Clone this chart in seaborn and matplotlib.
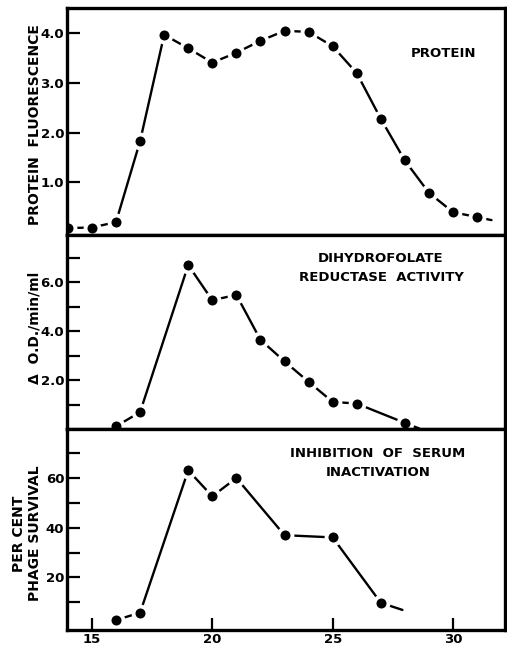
import numpy as np
import pandas as pd
import seaborn as sns
import matplotlib.pyplot as plt

sns.set_style("ticks", {"axes.edgecolor": "black", "text.color": "black",
                        "xtick.color": "black", "ytick.color": "black",
                        "axes.labelcolor": "black"})
plt.rcParams['font.family'] = ['DejaVu Sans']
plt.rcParams['font.weight'] = 'bold'

# fraction numbers and readings
protein_fraction = [14, 15, 16, 17, 18, 19, 20, 21, 22, 23, 24, 25, 26, 27, 28, 29, 30, 31]
protein_value = [0.08, 0.09, 0.2, 1.83, 3.97, 3.7, 3.41, 3.61, 3.85, 4.05, 4.03, 3.74,
                 3.2, 2.28, 1.44, 0.79, 0.4, 0.3]
protein_tail = (31.6, 0.24)

dhfr_fraction = [16, 17, 19, 20, 21, 22, 23, 24, 25, 26, 28]
dhfr_value = [0.11, 0.69, 6.71, 5.27, 5.49, 3.65, 2.77, 1.93, 1.11, 1.04, 0.25]
dhfr_tail = (28.6, 0.02)

serum_fraction = [16, 17, 19, 20, 21, 23, 25, 27]
serum_value = [2.7, 5.7, 63.2, 52.7, 60.1, 37.0, 36.1, 9.7]
serum_tail = (27.9, 6.8)

x_ticks = [15, 20, 25, 30]


def draw_panel(ax, xs, ys, tail):
    """
    Draws one hand-drawn style curve: line with gaps around the dots
    """
    df = pd.DataFrame({"fraction": xs, "value": ys})
    line_df = pd.concat([df, pd.DataFrame({"fraction": [tail[0]], "value": [tail[1]]})])
    sns.lineplot(x="fraction", y="value", data=line_df, ax=ax, color="black",
                 linewidth=1.7, sort=False, zorder=2)
    sns.scatterplot(x="fraction", y="value", data=df, ax=ax, color="white",
                    s=165, linewidth=0, zorder=3)
    sns.scatterplot(x="fraction", y="value", data=df, ax=ax, color="black",
                    s=52, linewidth=0, zorder=4)
    ax.set_xlabel("")
    for sp in ax.spines.values():
        sp.set_visible(True)
        sp.set_linewidth(2.4)
        sp.set_color("black")
        sp.set_zorder(5)
    ax.tick_params(axis="y", direction="in", length=9.5, width=1.6, pad=2,
                   labelsize=9.5, left=True, right=False, colors="black")
    ax.tick_params(axis="x", bottom=False, top=False, labelbottom=False)


fig, axes = plt.subplots(3, 1, figsize=(5.07, 6.46), dpi=100, sharex=True,
                         gridspec_kw={"height_ratios": [227, 194, 201], "hspace": 0})
fig.subplots_adjust(left=0.132, right=0.996, top=0.9876, bottom=0.0248)

ax1, ax2, ax3 = axes

draw_panel(ax1, protein_fraction, protein_value, protein_tail)
ax1.set_ylim(-0.06, 4.51)
ax1.set_yticks([1.0, 2.0, 3.0, 4.0])
ax1.set_yticklabels(["1.0", "2.0", "3.0", "4.0"])
ax1.set_ylabel("PROTEIN  FLUORESCENCE", fontsize=10, fontweight="bold", color="black")
ax1.yaxis.set_label_coords(-0.057, 0.485)
ax1.text(0.86, 0.8, "PROTEIN", transform=ax1.transAxes, ha="center", va="center",
         fontsize=9.5, fontweight="bold", color="black")

draw_panel(ax2, dhfr_fraction, dhfr_value, dhfr_tail)
ax2.set_ylim(0, 7.94)
ax2.set_yticks([1, 2, 3, 4, 5, 6, 7])
ax2.set_yticklabels(["", "2.0", "", "4.0", "", "6.0", ""])
ax2.set_ylabel("\u0394  O.D./min/ml", fontsize=10, fontweight="bold", color="black")
ax2.yaxis.set_label_coords(-0.057, 0.52)
ax2.text(0.717, 0.83, "DIHYDROFOLATE\nREDUCTASE  ACTIVITY", transform=ax2.transAxes,
         ha="center", va="center", fontsize=9.5, fontweight="bold", linespacing=1.6,
         color="black")

draw_panel(ax3, serum_fraction, serum_value, serum_tail)
ax3.set_ylim(-1.3, 79.9)
ax3.set_yticks([10, 20, 30, 40, 50, 60, 70])
ax3.set_yticklabels(["", "20", "", "40", "", "60", ""])
ax3.set_ylabel("PER CENT\nPHAGE SURVIVAL", fontsize=10, fontweight="bold", linespacing=1.2,
               color="black")
ax3.yaxis.set_label_coords(-0.057, 0.48)
ax3.text(0.71, 0.83, "INHIBITION  OF  SERUM\nINACTIVATION", transform=ax3.transAxes,
         ha="center", va="center", fontsize=9.5, fontweight="bold", linespacing=1.6,
         color="black")

ax3.set_xlim(13.96, 32.16)
ax3.set_xticks(x_ticks)
ax3.tick_params(axis="x", bottom=True, labelbottom=True, direction="in", length=9,
                width=1.6, pad=2, labelsize=9.5, colors="black")
ax3.set_xlabel("")

fig.savefig("out.png", dpi=100)
